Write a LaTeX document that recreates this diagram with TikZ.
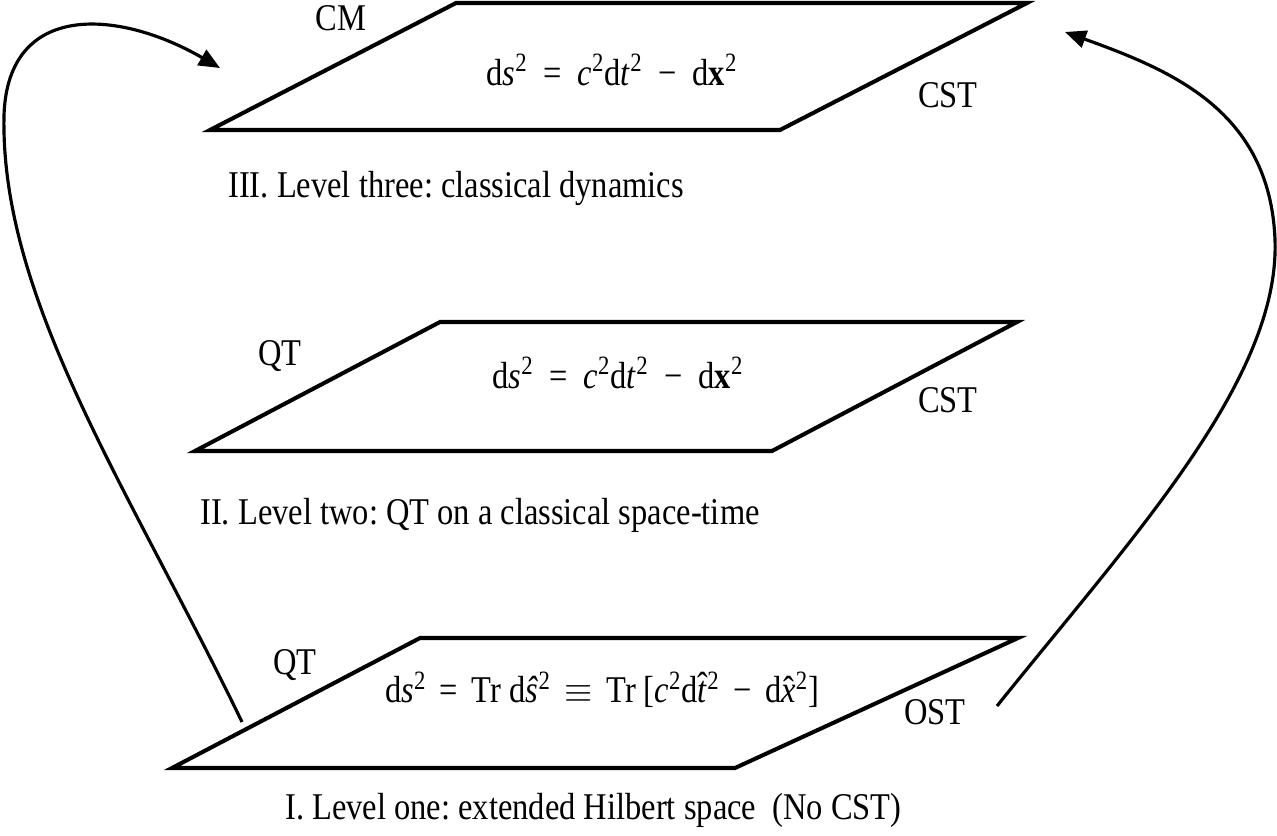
\documentclass[tikz,border=0pt]{standalone}
\usepackage{fontspec}
\setmainfont{Liberation Serif}[FakeStretch=0.86]
\usetikzlibrary{arrows.meta}
\frenchspacing
\newcommand\hatit[2][0pt]{\ooalign{\textit{#2}\cr\hidewidth\raisebox{#1}{\char"02C6}\hidewidth\cr}}
\newcommand\sqr{\textsuperscript{2}}
\newcommand\opsp[1]{\hspace{0.42em}#1\hspace{0.42em}}
\newcommand\opsq[1]{\hspace{0.36em}#1\hspace{0.36em}}
\tikzset{
  plane/.style={line width=2.3pt, line join=miter},
  loopcurve/.style={line width=1.8pt, -{Triangle[length=12pt,width=10pt]}},
  lbl/.style={inner sep=0pt, font=\fontsize{21.5}{24}\selectfont},
  captn/.style={lbl, anchor=west},
}
\begin{document}
\begin{tikzpicture}[x=0.02cm,y=-0.02cm]
\useasboundingbox (0,0) rectangle (1277,835);
% level three
\coordinate (t1) at (210,130); \coordinate (t2) at (780,130);
\coordinate (t3) at (1027,3);  \coordinate (t4) at (456,3);
\draw[plane] (t1) -- (t2) -- (t3) -- (t4) -- cycle;
\node[lbl] (cm) at (341,18) {CM};
\node[lbl] (cst3) at (948,95) {CST};
\node[lbl] (f3) at (612,70) {d\textit{s}\sqr\opsp{=}\textit{c}\sqr d\textit{t}\sqr\opsp{−}d\textbf{x}\sqr};
\node[captn] (c3) at (228,188) {III. Level three: classical dynamics};
% level two
\coordinate (m1) at (195,451); \coordinate (m2) at (772,451);
\coordinate (m3) at (1017,322); \coordinate (m4) at (440,322);
\draw[plane] (m1) -- (m2) -- (m3) -- (m4) -- cycle;
\node[lbl] (qt2) at (280,356) {QT};
\node[lbl] (cst2) at (948,400) {CST};
\node[lbl] (f2) at (618,373) {d\textit{s}\sqr\opsp{=}\textit{c}\sqr d\textit{t}\sqr\opsp{−}d\textbf{x}\sqr};
\node[captn] (c2) at (200,515) {II. Level two: QT on a classical space-time};
% level one
\coordinate (b1) at (172,768); \coordinate (b2) at (735,768);
\coordinate (b3) at (1018,638); \coordinate (b4) at (420,638);
\draw[plane] (b1) -- (b2) -- (b3) -- (b4) -- cycle;
\node[lbl] (qt1) at (295,665) {QT};
\node[lbl] (ost) at (935,712) {OST};
\node[lbl] (f1) at (602,690) {d\textit{s}\sqr\opsq{=}Tr d\textit{ŝ}\sqr\opsq{$\equiv$}Tr [\textit{c}\sqr d\hatit[0.12em]{t}\sqr\opsq{−}d\hatit{x}\sqr]};
\node[captn] (c1) at (285,810) {I. Level one: extended Hilbert space\ \ (No CST)};
% loops
\coordinate (ls) at (242,722); \coordinate (lm) at (4,115); \coordinate (le) at (220,68);
\coordinate (rs) at (997,706); \coordinate (rm) at (1275,240); \coordinate (re) at (1065,32);
\draw[loopcurve] (ls) .. controls (130,490) and (0,300) .. (lm) .. controls (8,0) and (120,10) .. (le);
\draw[loopcurve] (rs) .. controls (1130,540) and (1280,380) .. (rm) .. controls (1270,110) and (1170,70) .. (re);
\end{tikzpicture}
\end{document}
